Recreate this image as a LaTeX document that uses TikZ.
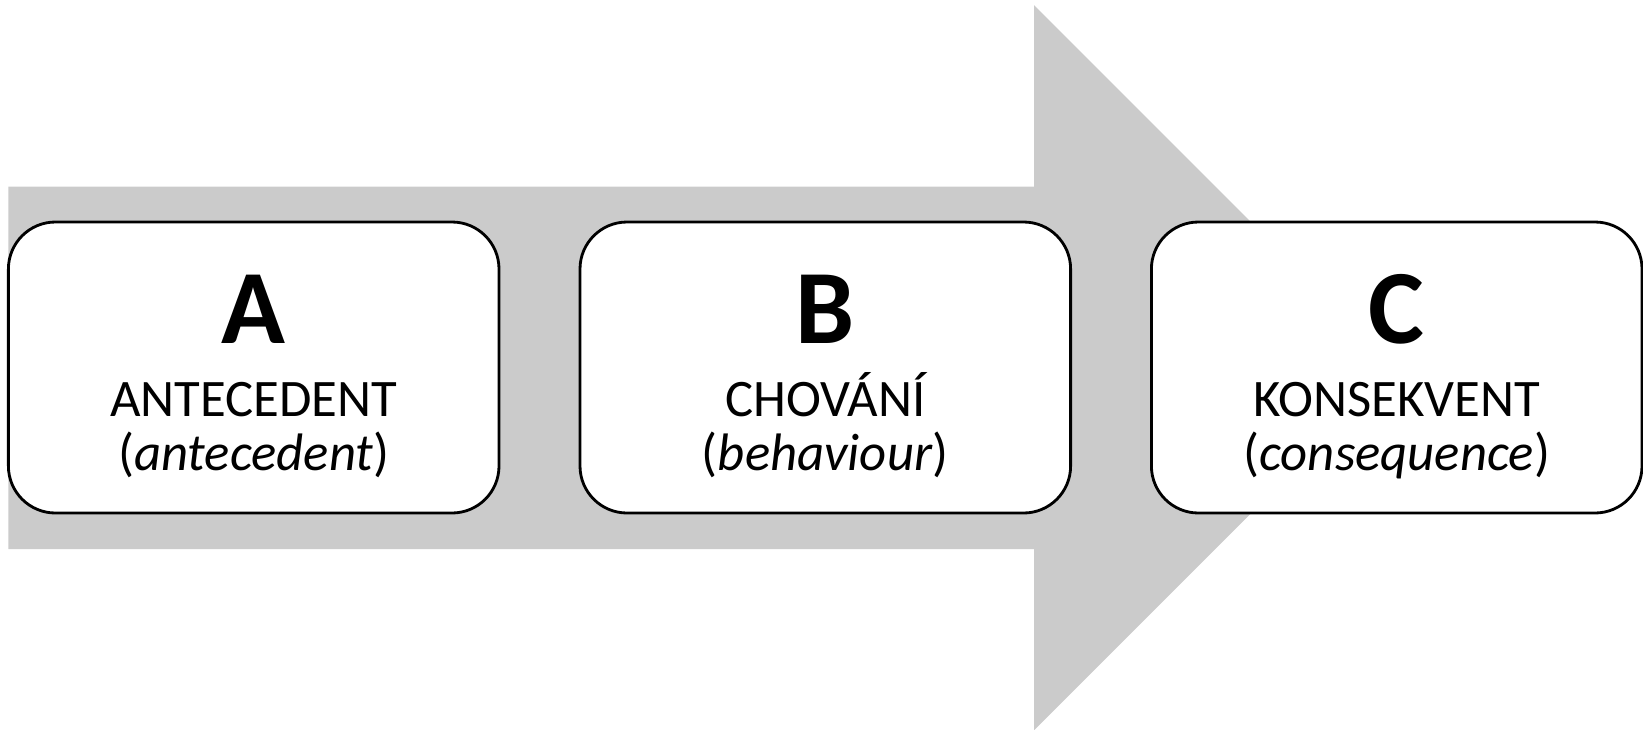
\documentclass[tikz,border=0pt]{standalone}
\usepackage{fontspec}
\setmainfont{Carlito}
\usetikzlibrary{positioning}
\definecolor{arrowgray}{RGB}{203,203,203}
\tikzset{
  stage/.style={draw=black, line width=0.8pt, fill=white, rounded corners=0.47cm,
    minimum width=4.906cm, minimum height=2.91cm},
  stageletter/.style={anchor=base, inner sep=0pt, font=\fontsize{30}{36}\selectfont\bfseries},
  stagename/.style={anchor=base, inner sep=0pt, font=\fontsize{15}{18}\selectfont},
  stagegloss/.style={anchor=base, inner sep=0pt, font=\fontsize{15}{18}\selectfont}
}

\begin{document}
\begin{tikzpicture}
\useasboundingbox (0,0) rectangle (16.43,7.29);
% big arrow behind the boxes
\fill[arrowgray] (0.084,5.425) -- (10.34,5.425) -- (10.34,7.238) -- (13.966,3.6125)
  -- (10.34,-0.013) -- (10.34,1.80) -- (0.084,1.80) -- cycle;

\node[stage] (boxA) at (2.537,3.615) {};
\node[stage] (boxB) at (8.253,3.615) {};
\node[stage] (boxC) at (13.967,3.615) {};

\node[stageletter] (letA) at ([yshift=0.245cm]boxA.center) {A};
\node[stagename] (nameA) at ([yshift=-0.485cm]boxA.center) {ANTECEDENT};
\node[stagegloss] (glossA) at ([yshift=-1.025cm]boxA.center) {(\textit{antecedent})};

\node[stageletter] (letB) at ([yshift=0.245cm]boxB.center) {B};
\node[stagename] (nameB) at ([yshift=-0.485cm]boxB.center) {CHOVÁNÍ};
\node[stagegloss] (glossB) at ([yshift=-1.025cm]boxB.center) {(\textit{behaviour})};

\node[stageletter] (letC) at ([yshift=0.245cm]boxC.center) {C};
\node[stagename] (nameC) at ([yshift=-0.485cm]boxC.center) {KONSEKVENT};
\node[stagegloss] (glossC) at ([yshift=-1.025cm]boxC.center) {(\textit{consequence})};
\end{tikzpicture}
\end{document}
